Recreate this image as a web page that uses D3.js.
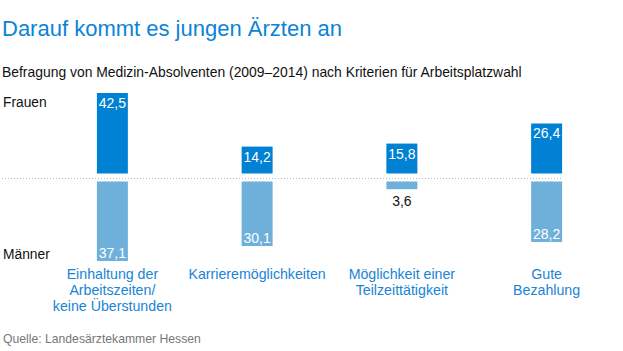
<html>
<head>
<script src="https://d3js.org/d3.v7.min.js"></script>
<style>
  body { margin: 0; background: #fff; }
  text { font-family: "Liberation Sans", Arial, sans-serif; }
</style>
</head>
<body>
<script>
// data
const categories = [
  ["Einhaltung der", "Arbeitszeiten/", "keine Überstunden"],
  ["Karrieremöglichkeiten"],
  ["Möglichkeit einer", "Teilzeittätigkeit"],
  ["Gute", "Bezahlung"]
];
const frauen = [42.5, 14.2, 15.8, 26.4];
const maenner = [37.1, 30.1, 3.6, 28.2];

const w = 623, h = 351;
const blue = "#0081d4", lightBlue = "#6eb0da";
const fmt = v => d3.format(".1f")(v).replace(".", ",");

const svg = d3.select("body").append("svg")
  .attr("width", w).attr("height", h);

svg.append("text").attr("x", 2).attr("y", 36)
  .text("Darauf kommt es jungen Ärzten an")
  .style("font-size", "22px").style("fill", "#0a84d6");

svg.append("text").attr("x", 2).attr("y", 77)
  .text("Befragung von Medizin-Absolventen (2009–2014) nach Kriterien für Arbeitsplatzwahl")
  .style("font-size", "13.9px").style("fill", "#111");

svg.append("text").attr("x", 3).attr("y", 107).text("Frauen")
  .style("font-size", "13.8px").style("fill", "#111");
svg.append("text").attr("x", 3).attr("y", 259).text("Männer")
  .style("font-size", "13.8px").style("fill", "#111");

const x = d3.scaleBand().domain(d3.range(categories.length))
  .range([40, 619]).paddingInner(0.786).paddingOuter(0.393);

const yF = d3.scaleLinear().domain([0, 42.5]).range([173.5, 93]);
const yM = d3.scaleLinear().domain([0, 37.1]).range([181.5, 261]);

// middle dotted line
svg.append("line").attr("x1", 2).attr("x2", x(3) + x.bandwidth())
  .attr("y1", 178.5).attr("y2", 178.5)
  .style("stroke", "#bbb").style("stroke-width", 1).style("stroke-dasharray", "1,2");

// women bars
svg.selectAll(".f").data(frauen).enter().append("rect")
  .attr("class", "f")
  .attr("x", (d, i) => x(i)).attr("width", x.bandwidth())
  .attr("y", d => yF(d)).attr("height", d => yF(0) - yF(d))
  .style("fill", blue);

svg.selectAll(".fl").data(frauen).enter().append("text")
  .attr("class", "fl")
  .attr("x", (d, i) => x(i) + x.bandwidth() / 2)
  .attr("y", d => yF(d) + 15)
  .attr("text-anchor", "middle")
  .text(fmt)
  .style("font-size", "14px").style("fill", "#fff");

// men bars
svg.selectAll(".m").data(maenner).enter().append("rect")
  .attr("class", "m")
  .attr("x", (d, i) => x(i)).attr("width", x.bandwidth())
  .attr("y", yM(0)).attr("height", d => yM(d) - yM(0))
  .style("fill", lightBlue);

svg.selectAll(".ml").data(maenner).enter().append("text")
  .attr("class", "ml")
  .attr("x", (d, i) => x(i) + x.bandwidth() / 2)
  .attr("y", d => (yM(d) - yM(0) > 20) ? yM(d) - 3 : yM(d) + 17)
  .attr("text-anchor", "middle")
  .text(fmt)
  .style("font-size", "14px")
  .style("fill", d => (yM(d) - yM(0) > 20) ? "#fff" : "#111");

// category labels
const cat = svg.selectAll(".cat").data(categories).enter().append("text")
  .attr("class", "cat")
  .attr("text-anchor", "middle")
  .style("font-size", "14.2px").style("fill", "#1a84d4");
cat.selectAll("tspan").data((d, i) => d.map(s => [s, i])).enter().append("tspan")
  .attr("x", d => x(d[1]) + x.bandwidth() / 2)
  .attr("y", (d, j) => 279 + j * 16)
  .text(d => d[0]);

svg.append("text").attr("x", 3).attr("y", 343)
  .text("Quelle: Landesärztekammer Hessen")
  .style("font-size", "12.2px").style("fill", "#777");
</script>
</body>
</html>
